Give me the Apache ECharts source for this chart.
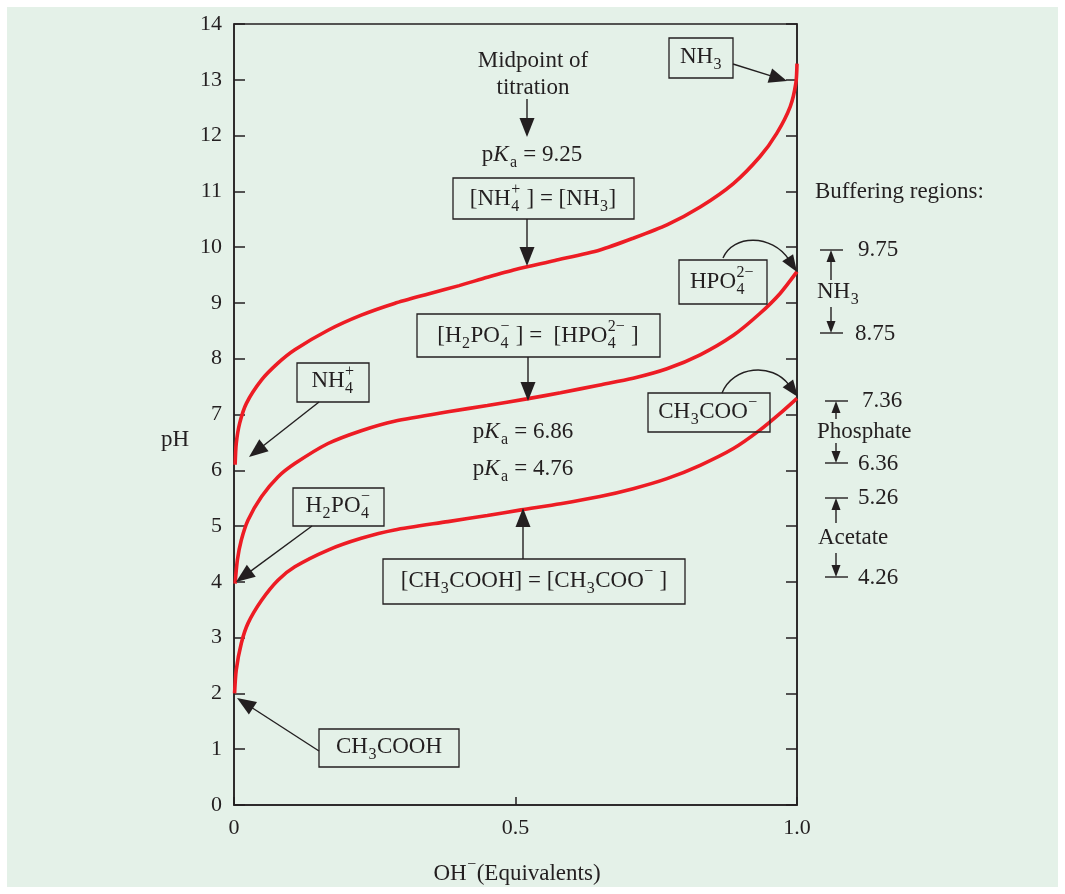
<!DOCTYPE html>
<html>
<head>
<meta charset="utf-8">
<script src="https://cdn.jsdelivr.net/npm/echarts@6/dist/echarts.min.js"></script>
<style>
html,body{margin:0;padding:0;background:#ffffff;}
#main{width:1065px;height:894px;}
</style>
</head>
<body>
<div id="main"></div>
<script>
// ---- Data ----
const xTicks = [0, 0.5, 1.0];
const xTickLabels = ['0', '0.5', '1.0'];
const yTicks = [0,1,2,3,4,5,6,7,8,9,10,11,12,13,14];

// Ammonia (NH4+ / NH3) titration curve
const nh3Equiv = [0.002, 0.004, 0.010, 0.022, 0.049, 0.078, 0.108, 0.167, 0.226, 0.285, 0.345, 0.40, 0.45, 0.5, 0.57, 0.65, 0.709, 0.769, 0.828, 0.887, 0.934, 0.964, 0.988, 0.998, 1.0];
const nh3PH    = [6.10, 6.48, 6.84, 7.20, 7.62, 7.92, 8.16, 8.51, 8.78, 8.99, 9.16, 9.31, 9.46, 9.60, 9.76, 9.95, 10.16, 10.40, 10.72, 11.14, 11.62, 12.04, 12.52, 12.94, 13.29];

// Phosphate (H2PO4- / HPO4 2-) titration curve
const phosEquiv = [0.002, 0.006, 0.013, 0.025, 0.049, 0.078, 0.108, 0.167, 0.226, 0.285, 0.38, 0.45, 0.52, 0.58, 0.65, 0.709, 0.769, 0.828, 0.887, 0.934, 0.970, 1.0];
const phosPH    = [3.97, 4.39, 4.75, 5.11, 5.53, 5.88, 6.12, 6.48, 6.71, 6.88, 7.05, 7.16, 7.28, 7.39, 7.53, 7.65, 7.82, 8.07, 8.42, 8.81, 9.17, 9.56];

// Acetate (CH3COOH / CH3COO-) titration curve
const acetEquiv = [0.001, 0.004, 0.013, 0.025, 0.049, 0.078, 0.108, 0.167, 0.226, 0.285, 0.38, 0.45, 0.51, 0.58, 0.65, 0.709, 0.769, 0.828, 0.887, 0.934, 0.970, 1.0];
const acetPH    = [2.00, 2.42, 2.90, 3.26, 3.67, 4.03, 4.27, 4.57, 4.78, 4.93, 5.08, 5.19, 5.29, 5.40, 5.53, 5.67, 5.85, 6.09, 6.39, 6.72, 7.02, 7.29];

// Buffering regions
const bufferNames = ['NH3', 'Phosphate', 'Acetate'];
const bufferHigh = ['9.75', '7.36', '5.26'];
const bufferLow  = ['8.75', '6.36', '4.26'];
const pKaLabels = ['9.25', '6.86', '4.76'];

// ---- Rendering ----
const FONT = 'Liberation Serif';
const INK = '#231f20';
const RED = '#ed1c24';
const SIZE = 23;
const mctx = document.createElement('canvas').getContext('2d');
function tw(t, size, italic) {
  mctx.font = (italic ? 'italic ' : '') + size + 'px "' + FONT + '"';
  return mctx.measureText(t).width;
}
function textEl(t, x, y, size, italic, align) {
  return {type: 'text', x: x, y: y, z: 100, silent: true,
    style: {text: t, fill: INK, fontSize: size, fontFamily: FONT, fontStyle: italic ? 'italic' : 'normal',
      align: align || 'left', verticalAlign: 'middle'}};
}
function formula(parts, x, y, align, size) {
  size = size || SIZE;
  const ss = Math.round(size * 0.68);
  let w = 0;
  const laid = parts.map(p => {
    if (typeof p === 'string') { const ww = tw(p, size, false); w += ww; return {k: 'n', t: p, w: ww}; }
    if (p.it) { const ww = tw(p.it, size, true) + 1; w += ww; return {k: 'i', t: p.it, w: ww}; }
    const ws = p.sub ? tw(p.sub, ss) : 0, wp = p.sup ? tw(p.sup, ss) : 0;
    const ww = Math.max(ws, wp) + 1; w += ww;
    return {k: 's', sub: p.sub, sup: p.sup, w: ww};
  });
  let cx = align === 'center' ? x - w / 2 : (align === 'right' ? x - w : x);
  const out = [];
  laid.forEach(o => {
    if (o.k === 'n' || o.k === 'i') out.push(textEl(o.t, cx, y, size, o.k === 'i'));
    else {
      if (o.sub) out.push(textEl(o.sub, cx + 0.5, y + size * 0.32, ss));
      if (o.sup) out.push(textEl(o.sup, cx + 0.5, y - size * 0.4, ss));
    }
    cx += o.w;
  });
  return out;
}
function box(x1, y1, x2, y2) {
  return {type: 'rect', z: 90, silent: true, shape: {x: x1, y: y1, width: x2 - x1, height: y2 - y1},
    style: {fill: 'none', stroke: INK, lineWidth: 1.3}};
}
function head(tx, ty, dx, dy, len, wid) {
  const L = Math.hypot(dx, dy); const ux = dx / L, uy = dy / L;
  const bx = tx - ux * len, by = ty - uy * len;
  return {type: 'polygon', z: 95, silent: true,
    shape: {points: [[tx, ty], [bx - uy * wid / 2, by + ux * wid / 2], [bx + uy * wid / 2, by - ux * wid / 2]]},
    style: {fill: INK}};
}
function arrow(x1, y1, x2, y2, len, wid) {
  len = len || 19; wid = wid || 15;
  const dx = x2 - x1, dy = y2 - y1, L = Math.hypot(dx, dy);
  const bx = x2 - dx / L * (len - 2), by = y2 - dy / L * (len - 2);
  return [{type: 'line', z: 95, silent: true, shape: {x1: x1, y1: y1, x2: bx, y2: by}, style: {stroke: INK, lineWidth: 1.4}},
    head(x2, y2, dx, dy, len, wid)];
}
function curvedArrow(x1, y1, c1x, c1y, c2x, c2y, tx, ty) {
  const dx = tx - c2x, dy = ty - c2y, L = Math.hypot(dx, dy);
  const len = 17;
  const ex = tx - dx / L * (len - 2), ey = ty - dy / L * (len - 2);
  return [{type: 'bezierCurve', z: 95, silent: true,
    shape: {x1: x1, y1: y1, cpx1: c1x, cpy1: c1y, cpx2: c2x, cpy2: c2y, x2: ex, y2: ey},
    style: {stroke: INK, lineWidth: 1.4, fill: 'none'}}, head(tx, ty, dx, dy, len, 13)];
}
function bar(x1, x2, y) {
  return {type: 'line', z: 95, silent: true, shape: {x1: x1, y1: y, x2: x2, y2: y}, style: {stroke: INK, lineWidth: 1.4}};
}

const G = [];
G.push({type: 'rect', z: -100, silent: true, shape: {x: 7, y: 7, width: 1051, height: 880}, style: {fill: '#e4f1e8'}});
// axis titles
G.push(...formula(['pH'], 175, 440, 'center'));
G.push(...formula(['OH', {sup: '\u2212'}, '(Equivalents)'], 517, 874, 'center'));
// midpoint annotation
G.push(...formula(['Midpoint of'], 533, 61, 'center'));
G.push(...formula(['titration'], 533, 88, 'center'));
G.push(...arrow(527, 99, 527, 137));
G.push(...formula(['p', {it: 'K'}, {sub: 'a'}, ' = ' + pKaLabels[0]], 532, 155, 'center'));
G.push(box(453, 178, 634, 219));
G.push(...formula(['[NH', {sub: '4', sup: '+'}, ' ] = [NH', {sub: '3'}, ']'], 543, 199, 'center'));
G.push(...arrow(527, 219, 527, 266));
// phosphate midpoint
G.push(box(417, 314, 660, 357));
G.push(...formula(['[H', {sub: '2'}, 'PO', {sub: '4', sup: '\u2212'}, ' ] =  [HPO', {sub: '4', sup: '2\u2212'}, ' ]'], 538, 336, 'center'));
G.push(...arrow(528, 357, 528, 401));
G.push(...formula(['p', {it: 'K'}, {sub: 'a'}, ' = ' + pKaLabels[1]], 523, 432, 'center'));
G.push(...formula(['p', {it: 'K'}, {sub: 'a'}, ' = ' + pKaLabels[2]], 523, 469, 'center'));
// acetate midpoint
G.push(box(383, 559, 685, 604));
G.push(...formula(['[CH', {sub: '3'}, 'COOH] = [CH', {sub: '3'}, 'COO', {sup: '\u2212'}, ' ]'], 534, 581, 'center'));
G.push(...arrow(523, 559, 523, 508));
// start species
G.push(box(297, 363, 369, 402));
G.push(...formula(['NH', {sub: '4', sup: '+'}], 333, 381, 'center'));
G.push(...arrow(319, 402, 249, 457));
G.push(box(293, 488, 384, 526));
G.push(...formula(['H', {sub: '2'}, 'PO', {sub: '4', sup: '\u2212'}], 338, 506, 'center'));
G.push(...arrow(312, 526, 236, 582));
G.push(box(319, 729, 459, 767));
G.push(...formula(['CH', {sub: '3'}, 'COOH'], 389, 747, 'center'));
G.push(...arrow(319, 751, 237, 698));
// end species
G.push(box(669, 38, 733, 78));
G.push(...formula(['NH', {sub: '3'}], 701, 57, 'center'));
G.push(...arrow(733, 64, 787, 81, 18, 15));
G.push(box(679, 260, 767, 304));
G.push(...formula(['HPO', {sub: '4', sup: '2\u2212'}], 722, 282, 'center'));
G.push(...curvedArrow(723, 258, 733, 234, 772, 234, 797, 272));
G.push(box(648, 393, 770, 432));
G.push(...formula(['CH', {sub: '3'}, 'COO', {sup: '\u2212'}], 708, 412, 'center'));
G.push(...curvedArrow(722, 393, 733, 366, 772, 362, 798, 397));
// buffering regions
G.push(...formula(['Buffering regions:'], 815, 192, 'left'));
const bufLayout = [
  {bx1: 820, bx2: 843, ax: 831, top: 250, upFrom: 280, label: 292, downFrom: 307, bot: 333, hx: 858, lx: 855, nameX: 817},
  {bx1: 825, bx2: 848, ax: 836, top: 401, upFrom: 419, label: 432, downFrom: 443, bot: 463, hx: 862, lx: 858, nameX: 817},
  {bx1: 825, bx2: 848, ax: 836, top: 498, upFrom: 523, label: 538, downFrom: 553, bot: 577, hx: 858, lx: 858, nameX: 818}
];
bufLayout.forEach((b, i) => {
  G.push(bar(b.bx1, b.bx2, b.top));
  G.push(...arrow(b.ax, b.upFrom, b.ax, b.top, 12, 9));
  G.push(bar(b.bx1, b.bx2, b.bot));
  G.push(...arrow(b.ax, b.downFrom, b.ax, b.bot, 12, 9));
  G.push(...formula([bufferHigh[i]], b.hx, b.top, 'left'));
  G.push(...formula([bufferLow[i]], b.lx, b.bot + 1, 'left'));
  const nm = bufferNames[i] === 'NH3' ? ['NH', {sub: '3'}] : [bufferNames[i]];
  G.push(...formula(nm, b.nameX, b.label, 'left'));
});

const zip = (xs, ys) => xs.map((x, i) => [x, ys[i]]);
const lineSeries = (name, xs, ys) => ({
  name: name, type: 'line', data: zip(xs, ys), showSymbol: false, smooth: 0.25,
  lineStyle: {color: RED, width: 3.6}, itemStyle: {color: RED}, z: 10, clip: false, silent: true
});

const chart = echarts.init(document.getElementById('main'), null, {renderer: 'canvas'});
chart.setOption({
  backgroundColor: 'transparent',
  animation: false,
  grid: {left: 234, right: 268, top: 24, bottom: 89, show: true, borderColor: INK, borderWidth: 1.5, backgroundColor: 'transparent'},
  xAxis: {
    type: 'value', min: 0, max: 1, interval: 0.5,
    axisLine: {show: true, lineStyle: {color: INK, width: 1.5}},
    axisTick: {show: true, inside: true, length: 8, lineStyle: {color: INK, width: 1.5}},
    splitLine: {show: false},
    axisLabel: {margin: 12, color: INK, fontSize: 22, fontFamily: FONT,
      formatter: v => { const i = xTicks.indexOf(v); return i >= 0 ? xTickLabels[i] : ''; }}
  },
  yAxis: [{
    type: 'value', min: 0, max: 14, interval: 1, position: 'left',
    axisLine: {show: true, lineStyle: {color: INK, width: 1.5}},
    axisTick: {show: true, inside: true, length: 11, lineStyle: {color: INK, width: 1.5}},
    splitLine: {show: false},
    axisLabel: {margin: 12, color: INK, fontSize: 22, fontFamily: FONT, lineHeight: 30, padding: [6, 0, 0, 0],
      formatter: v => yTicks.indexOf(v) >= 0 ? String(v) : ''}
  }, {
    type: 'value', min: 0, max: 14, interval: 1, position: 'right',
    axisLine: {show: true, lineStyle: {color: INK, width: 1.5}},
    axisTick: {show: true, inside: true, length: 11, lineStyle: {color: INK, width: 1.5}},
    splitLine: {show: false}, axisLabel: {show: false}
  }],
  series: [
    lineSeries('NH3', nh3Equiv, nh3PH),
    lineSeries('Phosphate', phosEquiv, phosPH),
    lineSeries('Acetate', acetEquiv, acetPH)
  ],
  graphic: {elements: G}
});
</script>
</body>
</html>
